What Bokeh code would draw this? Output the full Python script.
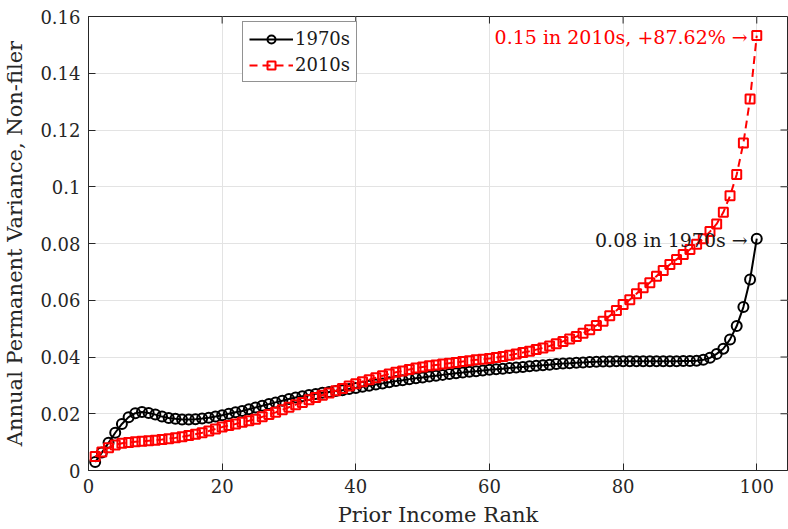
from bokeh.plotting import figure
from bokeh.models import Range1d, FixedTicker, Legend, LegendItem, ColumnDataSource
from bokeh.core.properties import value
from bokeh.embed import file_html
from bokeh.resources import INLINE

# Prior income rank (percentile)
rank = list(range(1, 101))

# Annual permanent variance of non-filers, 1970s cohort
var_1970s = [
    0.0030, 0.0063, 0.0098, 0.0133, 0.0164, 0.0188, 0.0202, 0.0206, 0.0203, 0.0197,
    0.0190, 0.0185, 0.0182, 0.0180, 0.0180, 0.0181, 0.0183, 0.0186, 0.0190, 0.0195,
    0.0200, 0.0205, 0.0210, 0.0216, 0.0222, 0.0228, 0.0234, 0.0240, 0.0246, 0.0252,
    0.0257, 0.0262, 0.0266, 0.0270, 0.0274, 0.0277, 0.0280, 0.0283, 0.0287, 0.0291,
    0.0295, 0.0299, 0.0303, 0.0307, 0.0311, 0.0315, 0.0318, 0.0322, 0.0325, 0.0328,
    0.0331, 0.0334, 0.0337, 0.0340, 0.0343, 0.0345, 0.0348, 0.0350, 0.0352, 0.0355,
    0.0357, 0.0359, 0.0361, 0.0363, 0.0365, 0.0367, 0.0369, 0.0371, 0.0373, 0.0375,
    0.0377, 0.0378, 0.0380, 0.0381, 0.0382, 0.0383, 0.0384, 0.0384, 0.0385, 0.0385,
    0.0385, 0.0385, 0.0385, 0.0385, 0.0385, 0.0385, 0.0385, 0.0385, 0.0386, 0.0386,
    0.0387, 0.0390, 0.0397, 0.0411, 0.0429, 0.0462, 0.0509, 0.0576, 0.0673, 0.0817,
]

# Annual permanent variance of non-filers, 2010s cohort
var_2010s = [
    0.0049, 0.0065, 0.0080, 0.0090, 0.0096, 0.0099, 0.0101, 0.0103, 0.0105, 0.0107,
    0.0109, 0.0112, 0.0115, 0.0119, 0.0123, 0.0128, 0.0133, 0.0139, 0.0146, 0.0153,
    0.0159, 0.0164, 0.0170, 0.0175, 0.0181, 0.0189, 0.0197, 0.0205, 0.0214, 0.0223,
    0.0232, 0.0240, 0.0249, 0.0257, 0.0265, 0.0273, 0.0281, 0.0289, 0.0298, 0.0306,
    0.0313, 0.0320, 0.0327, 0.0334, 0.0340, 0.0346, 0.0351, 0.0356, 0.0361, 0.0365,
    0.0369, 0.0372, 0.0375, 0.0378, 0.0381, 0.0384, 0.0387, 0.0390, 0.0392, 0.0395,
    0.0398, 0.0402, 0.0406, 0.0411, 0.0416, 0.0420, 0.0426, 0.0432, 0.0439, 0.0447,
    0.0455, 0.0463, 0.0472, 0.0484, 0.0496, 0.0511, 0.0526, 0.0545, 0.0564, 0.0585,
    0.0602, 0.0623, 0.0644, 0.0662, 0.0685, 0.0705, 0.0726, 0.0744, 0.0761, 0.0779,
    0.0797, 0.0817, 0.0842, 0.0869, 0.0910, 0.0968, 0.1043, 0.1154, 0.1309, 0.153285,
]

x_ticks = [0, 20, 40, 60, 80, 100]
y_ticks = [0, 0.02, 0.04, 0.06, 0.08, 0.10, 0.12, 0.14, 0.16]
y_tick_labels = ["0", "0.02", "0.04", "0.06", "0.08", "0.1", "0.12", "0.14", "0.16"]

X_MAX, Y_MAX = 104.6, 0.16
FONT = "DejaVu Serif"
AXIS_GRAY = "#262626"

p = figure(width=788, height=529, output_backend="svg", toolbar_location=None,
           x_range=Range1d(0, X_MAX), y_range=Range1d(0, Y_MAX),
           min_border_left=86, min_border_top=16, min_border_bottom=59,
           min_border_right=1)
p.background_fill_color = "white"
p.border_fill_color = "white"
p.outline_line_color = AXIS_GRAY
p.outline_line_width = 1

# Main axes
for ax, ticks in ((p.xaxis[0], x_ticks), (p.yaxis[0], y_ticks)):
    ax.ticker = FixedTicker(ticks=ticks)
    ax.axis_line_color = AXIS_GRAY
    ax.major_tick_line_color = AXIS_GRAY
    ax.major_tick_in = 7
    ax.major_tick_out = 0
    ax.minor_tick_line_color = None
    ax.major_label_text_font = FONT
    ax.major_label_text_font_size = "18px"
    ax.major_label_text_color = AXIS_GRAY
    ax.axis_label_text_font = FONT
    ax.axis_label_text_font_size = "21px"
    ax.axis_label_text_font_style = "normal"
    ax.axis_label_text_color = AXIS_GRAY

p.yaxis[0].major_label_overrides = {t: s for t, s in zip(y_ticks, y_tick_labels)}
p.xaxis[0].major_label_overrides = {t: str(t) for t in x_ticks}
p.xaxis[0].axis_label = "Prior Income Rank"
p.yaxis[0].axis_label = "Annual Permanent Variance, Non-filer"
p.xaxis[0].major_label_standoff = 8
p.xaxis[0].axis_label_standoff = 7
p.yaxis[0].major_label_standoff = 8
p.yaxis[0].axis_label_standoff = 10

# Light grid
for g in (p.xgrid[0], p.ygrid[0]):
    g.grid_line_color = "#e3e3e3"
    g.grid_line_width = 1
p.xgrid[0].ticker = FixedTicker(ticks=x_ticks)
p.ygrid[0].ticker = FixedTicker(ticks=y_ticks)

# Inward tick marks along the top and right edges of the box
tick_dx = X_MAX * 0.01
tick_dy = Y_MAX * 0.0155
p.segment(x0=x_ticks, y0=[Y_MAX] * len(x_ticks), x1=x_ticks,
          y1=[Y_MAX - tick_dy] * len(x_ticks), line_color=AXIS_GRAY, line_width=1)
p.segment(x0=[X_MAX] * len(y_ticks), y0=y_ticks, x1=[X_MAX - tick_dx] * len(y_ticks),
          y1=y_ticks, line_color=AXIS_GRAY, line_width=1)

src = ColumnDataSource(dict(x=rank, a=var_1970s, b=var_2010s))

l70 = p.line("x", "a", source=src, line_color="black", line_width=2)
s70 = p.scatter("x", "a", source=src, marker="circle", size=10,
                line_color="black", line_width=2, fill_color=None)
l10 = p.line("x", "b", source=src, line_color="red", line_width=2,
             line_dash="8 5")
s10 = p.scatter("x", "b", source=src, marker="square", size=9,
                line_color="red", line_width=2, fill_color=None)

# End-point annotations
last_a, last_b = var_1970s[-1], var_2010s[-1]
pct = (last_b / last_a - 1) * 100
p.text(x=[rank[-1]], y=[last_b],
       text=[f"{last_b:.2f} in 2010s, +{pct:.2f}% \u2192"],
       text_align="right", text_baseline="middle", x_offset=-9, y_offset=1,
       text_color="red", text_font=value(FONT), text_font_size="19px")
p.text(x=[rank[-1]], y=[last_a],
       text=[f"{last_a:.2f} in 1970s \u2192"],
       text_align="right", text_baseline="middle", x_offset=-9, y_offset=1,
       text_color="#1a1a1a", text_font=value(FONT), text_font_size="19px")

legend = Legend(items=[LegendItem(label="1970s", renderers=[l70, s70]),
                       LegendItem(label="2010s", renderers=[l10, s10])],
                location=(154, 388))
legend.label_text_font = FONT
legend.label_text_font_size = "18px"
legend.label_text_color = "#1a1a1a"
legend.glyph_width = 44
legend.glyph_height = 20
legend.label_standoff = 2
legend.spacing = 5
legend.padding = 6
legend.margin = 0
legend.border_line_color = AXIS_GRAY
legend.border_line_width = 1
legend.background_fill_alpha = 1
p.add_layout(legend, "center")

open("out.html", "w").write(file_html(p, INLINE))
